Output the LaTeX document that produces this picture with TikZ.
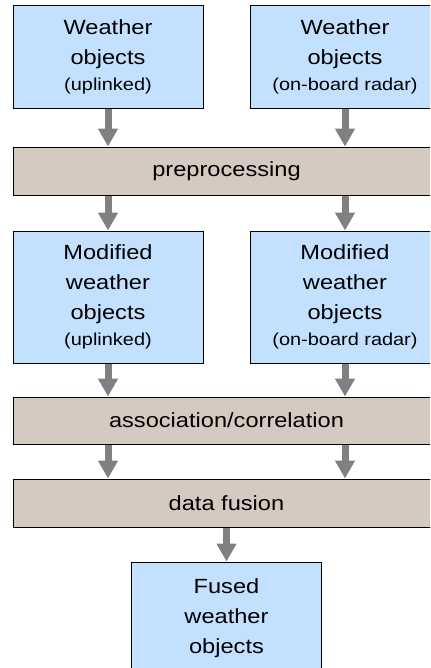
\documentclass[tikz,border=0pt]{standalone}
\usepackage{fontspec}
\setmainfont{Liberation Sans}[FakeStretch=1.15]
\usetikzlibrary{arrows.meta}
\usepackage{xcolor}
\definecolor{objblue}{RGB}{196,224,255}
\definecolor{stagetan}{RGB}{212,202,192}
\definecolor{flowgray}{RGB}{128,128,128}
\newcommand{\bigtxt}{\fontsize{15.4}{22.5}\selectfont}
\newcommand{\subtxt}[1]{\\[-3pt]{\fontsize{13}{16}\selectfont #1}}

\begin{document}
\begin{tikzpicture}
    \tikzset{
        x=0.75pt, y=-0.75pt,
        obj/.style={draw,line width=0.75pt,fill=objblue,minimum width=142.5pt,
            inner sep=0pt,align=center,font=\bigtxt},
        stage/.style={draw,line width=0.75pt,fill=stagetan,minimum width=320.25pt,
            minimum height=36pt,inner sep=0pt,font=\bigtxt},
        flow/.style={draw=flowgray,line width=5.25pt,
            -{Triangle[width=14.25pt,length=13.5pt]}}
    }
    \clip (0,0) rectangle (430,668);
    % input objects
    \node[obj,minimum height=77.25pt] (w1) at (108,56.5) {Weather\\objects\subtxt{(uplinked)}};
    \node[obj,minimum height=77.25pt] (w2) at (345,56.5) {Weather\\objects\subtxt{(on-board radar)}};
    \node[stage] (pre) at (226.5,171) {preprocessing};
    % modified objects
    \node[obj,minimum height=99pt] (m1) at (108,297) {Modified\\weather\\objects\subtxt{(uplinked)}};
    \node[obj,minimum height=99pt] (m2) at (345,297) {Modified\\weather\\objects\subtxt{(on-board radar)}};
    \node[stage,minimum height=35.25pt] (assoc) at (226.5,420.5) {association/correlation};
    \node[stage] (fusion) at (226.5,503) {data fusion};
    % result
    \node[obj,minimum height=84pt] (fused) at (226.5,618) {Fused\\weather\\objects};
    % flow arrows
    \draw[flow] (w1) -- (w1 |- pre.north);
    \draw[flow] (w2) -- (w2 |- pre.north);
    \draw[flow] (pre.south -| m1) -- (m1);
    \draw[flow] (pre.south -| m2) -- (m2);
    \draw[flow] (m1) -- (m1 |- assoc.north);
    \draw[flow] (m2) -- (m2 |- assoc.north);
    \draw[flow] (assoc.south -| m1) -- (m1 |- fusion.north);
    \draw[flow] (assoc.south -| m2) -- (m2 |- fusion.north);
    \draw[flow] (fusion) -- (fused);
\end{tikzpicture}
\end{document}
